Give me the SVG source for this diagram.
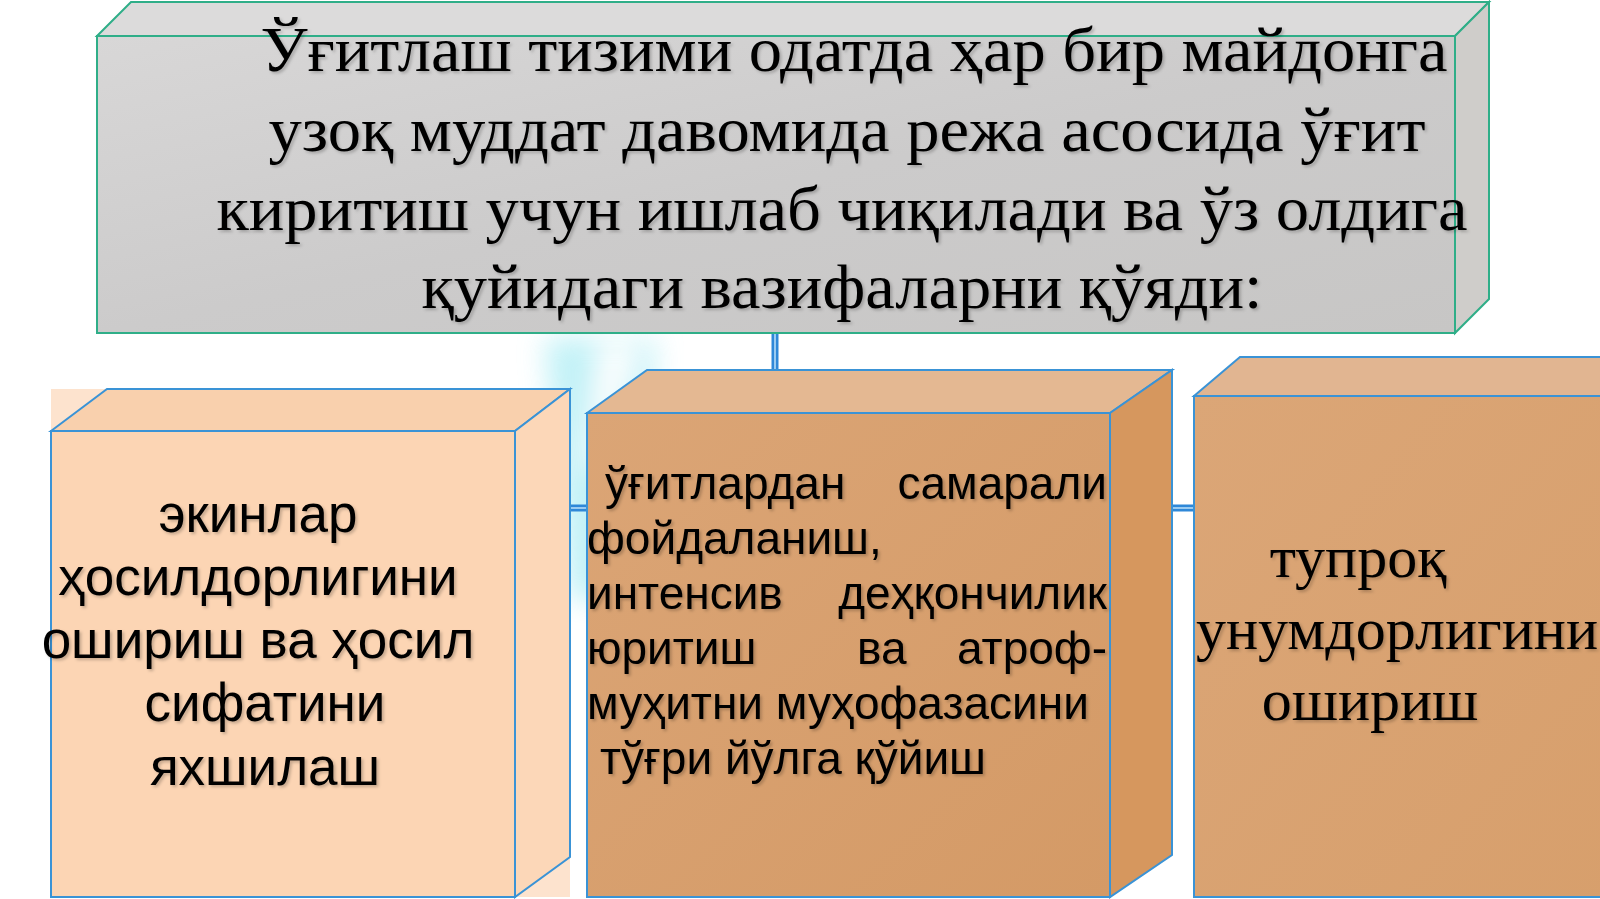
<svg xmlns="http://www.w3.org/2000/svg" width="1600" height="899" viewBox="0 0 1600 899">
<defs>
<linearGradient id="gGrey" x1="0" y1="0" x2="1" y2="1">
<stop offset="0" stop-color="#d8d7d7"/>
<stop offset="0.5" stop-color="#cccbcb"/>
<stop offset="1" stop-color="#c7c6c5"/>
</linearGradient>
<linearGradient id="gTan" x1="0" y1="0" x2="1" y2="1">
<stop offset="0" stop-color="#dba576"/>
<stop offset="1" stop-color="#d49a66"/>
</linearGradient>
<linearGradient id="gTanR" x1="0" y1="0" x2="1" y2="1">
<stop offset="0" stop-color="#dba677"/>
<stop offset="1" stop-color="#d79f6c"/>
</linearGradient>
<filter id="blur" x="-60%" y="-30%" width="220%" height="160%"><feGaussianBlur stdDeviation="14"/></filter>
<filter id="tsh" x="-5%" y="-20%" width="110%" height="150%"><feDropShadow dx="2" dy="2" stdDeviation="1.5" flood-color="#000" flood-opacity="0.22"/></filter>
</defs>
<style>
.serif{font-family:"Liberation Serif","Times New Roman",serif;fill:#000}
.sans{font-family:"Liberation Sans",Arial,sans-serif;fill:#000}
.grey{stroke:#2fae88;stroke-width:2}
.edge{stroke:#3a93d6;stroke-width:2}
.conn{stroke:#2f88d8;stroke-width:7;fill:none}
.connIn{stroke:#bfe2fa;stroke-width:1.5;fill:none}
</style>
<rect width="1600" height="899" fill="#ffffff"/>
<g id="glow" filter="url(#blur)" opacity="0.8">
<polygon points="545,338 655,338 640,600 570,600" fill="#b2eef5"/>
<polygon points="600,345 640,345 600,470 585,470" fill="#ffffff"/>
</g>
<g id="connectors">
<line class="conn" x1="775" y1="333" x2="775" y2="420"/>
<line class="connIn" x1="775" y1="333" x2="775" y2="420"/>
<line class="conn" x1="300" y1="508" x2="1400" y2="508"/>
<line class="connIn" x1="300" y1="508" x2="1400" y2="508"/>
</g>
<g id="node-top">
<polygon class="grey" points="97,36 131,2 1489,2 1455,36" fill="#dcdbdb"/>
<polygon class="grey" points="1455,36 1489,2 1489,299 1455,333" fill="#cfcdca"/>
<rect class="grey" x="97" y="36" width="1358" height="297" fill="url(#gGrey)"/>
<g class="serif" font-size="64" text-anchor="middle" filter="url(#tsh)">
<text x="854" y="71" textLength="1187" lengthAdjust="spacingAndGlyphs">Ўғитлаш тизими одатда ҳар бир майдонга</text>
<text x="847" y="151" textLength="1157" lengthAdjust="spacingAndGlyphs">узоқ муддат давомида режа асосида ўғит</text>
<text x="842" y="230" textLength="1251" lengthAdjust="spacingAndGlyphs">киритиш учун ишлаб чиқилади ва ўз олдига</text>
<text x="842" y="308" textLength="841" lengthAdjust="spacingAndGlyphs">қуйидаги вазифаларни қўяди:</text>
</g>
</g>
<g id="node-left">
<rect x="51" y="389" width="519" height="508" fill="#fcdcc2" opacity="0.8"/>
<polygon class="edge" points="51,431 107,389 570,389 515,431" fill="#f9d0ad"/>
<polygon class="edge" points="515,431 570,389 570,857 515,897" fill="#fcd7b8"/>
<rect class="edge" x="51" y="431" width="464" height="466" fill="#fcd5b4"/>
<g class="sans" font-size="53" text-anchor="middle" filter="url(#tsh)">
<text x="258" y="532">экинлар</text>
<text x="258" y="595">ҳосилдорлигини</text>
<text x="258" y="658">ошириш ва ҳосил</text>
<text x="265" y="721">сифатини</text>
<text x="265" y="785">яхшилаш</text>
</g>
</g>
<g id="node-middle">
<polygon class="edge" points="587,413 647,370 1172,370 1110,413" fill="#e4b892"/>
<polygon class="edge" points="1110,413 1172,370 1172,855 1110,897" fill="#d6975e"/>
<rect class="edge" x="587" y="413" width="523" height="484" fill="url(#gTan)"/>
<g class="sans" font-size="46" filter="url(#tsh)">
<text x="605" y="499">ўғитлардан</text>
<text x="1107" y="499" text-anchor="end">самарали</text>
<text x="587" y="554">фойдаланиш,</text>
<text x="587" y="609">интенсив</text>
<text x="1107" y="609" text-anchor="end">деҳқончилик</text>
<text x="587" y="664">юритиш</text>
<text x="857" y="664">ва</text>
<text x="1107" y="664" text-anchor="end">атроф-</text>
<text x="587" y="719">муҳитни муҳофазасини</text>
<text x="600" y="774">тўғри йўлга қўйиш</text>
</g>
</g>
<g id="node-right">
<polygon class="edge" points="1194,396 1240,357 1620,357 1620,396" fill="#e1b591"/>
<rect class="edge" x="1194" y="396" width="430" height="501" fill="url(#gTanR)"/>
<g class="serif" font-size="60" text-anchor="middle" filter="url(#tsh)">
<text x="1358" y="577">тупроқ</text>
<text x="1397" y="649">унумдорлигини</text>
<text x="1370" y="720">ошириш</text>
</g>
</g>
</svg>
